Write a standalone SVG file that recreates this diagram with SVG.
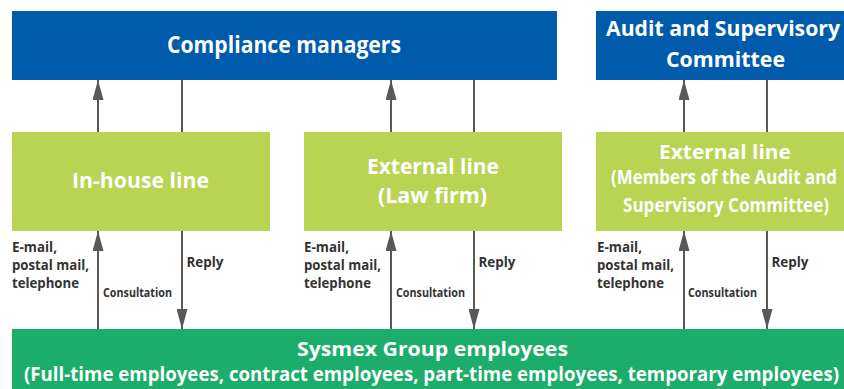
<svg xmlns="http://www.w3.org/2000/svg" width="844" height="389" viewBox="0 0 844 389">
<defs>
<marker id="ah" markerUnits="userSpaceOnUse" markerWidth="20" markerHeight="11" refX="20" refY="5.5" orient="auto">
<path d="M0,0 L20,5.5 L0,11 Z" fill="#595757"/>
</marker>
<style>
.blue{fill:#005BAC}
.lg{fill:#B8D452}
.dg{fill:#1BAD69}
.t{font-family:"Open Sans","Liberation Sans",sans-serif;font-weight:bold;fill:#ffffff;text-anchor:middle}
.l{font-family:"Open Sans","Liberation Sans",sans-serif;font-weight:bold;fill:#333333}
.c{stroke:#595757;stroke-width:2;fill:none}
.a{stroke:#595757;stroke-width:2;fill:none;marker-end:url(#ah)}
</style>
</defs>
<rect width="844" height="389" fill="#ffffff"/>
<g id="compliance-managers">
<rect class="blue" x="12" y="11" width="545" height="69"/>
<text class="t" x="284" y="53" font-size="23" textLength="234" lengthAdjust="spacingAndGlyphs">Compliance managers</text>
</g>
<g id="audit-committee">
<rect class="blue" x="596" y="11" width="248" height="69"/>
<text class="t" x="723" y="36" font-size="21" textLength="234" lengthAdjust="spacingAndGlyphs">Audit and Supervisory</text>
<text class="t" x="725.5" y="67" font-size="21" textLength="119" lengthAdjust="spacingAndGlyphs">Committee</text>
</g>
<g id="in-house-line">
<rect class="lg" x="12" y="132" width="258" height="99"/>
<text class="t" x="140.5" y="188" font-size="22" textLength="137" lengthAdjust="spacingAndGlyphs">In-house line</text>
</g>
<g id="external-line-law">
<rect class="lg" x="304" y="132" width="258" height="99"/>
<text class="t" x="433" y="174" font-size="21" textLength="132" lengthAdjust="spacingAndGlyphs">External line</text>
<text class="t" x="432.5" y="203" font-size="21" textLength="109" lengthAdjust="spacingAndGlyphs">(Law firm)</text>
</g>
<g id="external-line-audit">
<rect class="lg" x="596" y="132" width="248" height="99"/>
<text class="t" x="725" y="159" font-size="20" textLength="132" lengthAdjust="spacingAndGlyphs">External line</text>
<text class="t" x="724" y="184" font-size="19" textLength="226" lengthAdjust="spacingAndGlyphs">(Members of the Audit and</text>
<text class="t" x="726" y="212" font-size="19" textLength="206" lengthAdjust="spacingAndGlyphs">Supervisory Committee)</text>
</g>
<g id="employees">
<rect class="dg" x="12" y="329" width="832" height="60"/>
<text class="t" x="432.5" y="356" font-size="19" textLength="271" lengthAdjust="spacingAndGlyphs">Sysmex Group employees</text>
<text class="t" x="431.5" y="381" font-size="19" textLength="815" lengthAdjust="spacingAndGlyphs">(Full-time employees, contract employees, part-time employees, temporary employees)</text>
</g>
<g id="connectors">
<line class="a" x1="98" y1="132" x2="98" y2="80"/>
<line class="c" x1="182" y1="80" x2="182" y2="132"/>
<line class="a" x1="391" y1="132" x2="391" y2="80"/>
<line class="c" x1="474" y1="80" x2="474" y2="132"/>
<line class="a" x1="684" y1="132" x2="684" y2="80"/>
<line class="c" x1="767" y1="80" x2="767" y2="132"/>
<line class="a" x1="98" y1="329" x2="98" y2="231"/>
<line class="a" x1="182" y1="231" x2="182" y2="329"/>
<line class="a" x1="391" y1="329" x2="391" y2="231"/>
<line class="a" x1="474" y1="231" x2="474" y2="329"/>
<line class="a" x1="684" y1="329" x2="684" y2="231"/>
<line class="a" x1="767" y1="231" x2="767" y2="329"/>
</g>
<g id="labels">
<text class="l" x="12" y="252" font-size="14" textLength="45" lengthAdjust="spacingAndGlyphs">E-mail,</text>
<text class="l" x="12" y="270" font-size="14" textLength="77" lengthAdjust="spacingAndGlyphs">postal mail,</text>
<text class="l" x="12" y="288" font-size="14" textLength="67" lengthAdjust="spacingAndGlyphs">telephone</text>
<text class="l" x="103" y="297" font-size="13" textLength="69" lengthAdjust="spacingAndGlyphs">Consultation</text>
<text class="l" x="186.5" y="267" font-size="14" textLength="37" lengthAdjust="spacingAndGlyphs">Reply</text>
<text class="l" x="304" y="252" font-size="14" textLength="45" lengthAdjust="spacingAndGlyphs">E-mail,</text>
<text class="l" x="304" y="270" font-size="14" textLength="77" lengthAdjust="spacingAndGlyphs">postal mail,</text>
<text class="l" x="304" y="288" font-size="14" textLength="67" lengthAdjust="spacingAndGlyphs">telephone</text>
<text class="l" x="396" y="297" font-size="13" textLength="69" lengthAdjust="spacingAndGlyphs">Consultation</text>
<text class="l" x="478.5" y="267" font-size="14" textLength="37" lengthAdjust="spacingAndGlyphs">Reply</text>
<text class="l" x="597" y="252" font-size="14" textLength="45" lengthAdjust="spacingAndGlyphs">E-mail,</text>
<text class="l" x="597" y="270" font-size="14" textLength="77" lengthAdjust="spacingAndGlyphs">postal mail,</text>
<text class="l" x="597" y="288" font-size="14" textLength="67" lengthAdjust="spacingAndGlyphs">telephone</text>
<text class="l" x="688" y="297" font-size="13" textLength="69" lengthAdjust="spacingAndGlyphs">Consultation</text>
<text class="l" x="771.5" y="267" font-size="14" textLength="37" lengthAdjust="spacingAndGlyphs">Reply</text>
</g>
</svg>
